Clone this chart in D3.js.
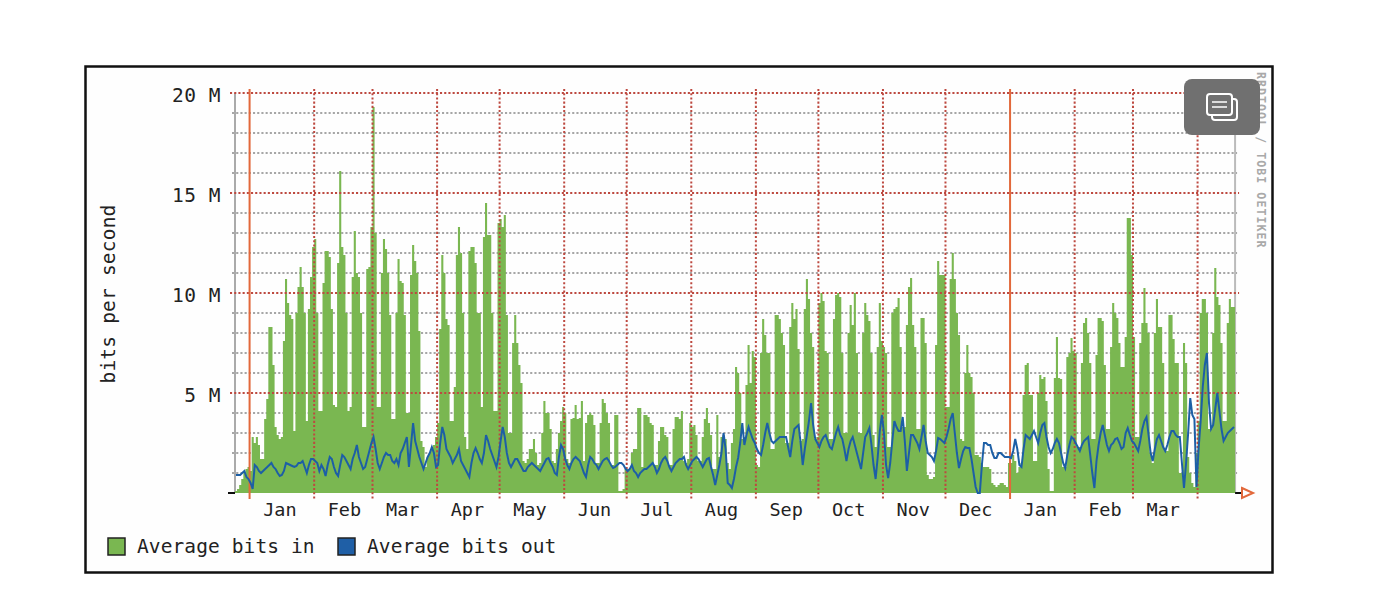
<!DOCTYPE html>
<html lang="en">
<head>
<meta charset="UTF-8">
<title>bits per second</title>
<script src="https://d3js.org/d3.v7.min.js"></script>
<style>
  html, body { margin: 0; padding: 0; background: #fff; }
  svg { display: block; }
  text { font-family: "DejaVu Sans Mono", monospace; fill: #222; }
</style>
</head>
<body>
<div id="content"></div>
<script>
// one value per day, one row per week, in Mbit/s
var bitsIn = [
  .1,.2,.4,.7,1.0,1.2,1.3,
  1.1,2.8,2.5,2.8,2.4,1.7,1.7,
  3.7,4.7,8.3,8.3,6.4,3.3,2.9,
  2.7,2.8,7.6,10.7,9.5,8.9,8.7,
  3.1,9.0,10.3,11.3,10.3,9.0,3.6,
  9.2,10.8,12.3,12.7,9.0,4.1,4.1,
  10.5,12.1,12.1,11.8,9.2,4.4,4.3,
  11.5,16.1,12.3,11.9,9.0,4.1,4.3,
  10.8,13.1,11.0,10.8,9.0,3.3,3.3,
  11.2,11.3,13.3,19.3,13.0,4.3,4.3,
  11.0,12.7,12.2,11.0,8.9,3.7,3.7,
  9.0,11.7,10.6,10.5,8.9,4.0,4.0,
  10.9,12.4,11.6,11.0,8.1,2.6,2.3,
  1.3,1.8,2.0,2.2,2.4,2.8,3.5,
  8.2,11.9,11.0,8.7,8.4,3.6,3.6,
  5.3,11.9,13.3,12.0,9.0,2.8,2.2,
  12.1,12.3,12.3,11.5,9.0,9.0,4.3,
  12.8,14.5,12.9,12.9,9.0,4.1,4.1,
  13.5,13.7,13.3,13.9,8.9,3.0,3.0,
  7.5,8.9,7.5,6.4,5.5,1.6,1.5,
  1.7,2.2,2.2,2.7,2.0,1.4,1.5,
  3.0,4.6,4.0,4.0,3.2,1.6,1.5,
  2.2,3.0,3.6,4.3,4.0,1.7,1.5,
  3.7,3.75,4.4,3.7,3.75,4.6,1.6,
  3.5,3.9,4.0,3.9,3.4,1.5,1.5,
  3.5,4.7,4.5,4.0,3.5,1.4,1.4,
  3.9,3.9,.1,.1,.2,1.2,1.2,
  1.2,2.0,2.2,2.2,4.25,4.25,1.3,
  3.9,3.9,3.8,3.5,3.4,1.4,1.4,
  2.6,3.3,3.3,2.9,2.8,1.4,1.4,
  3.2,3.8,3.8,3.7,4.1,1.6,1.5,
  1.7,3.5,3.3,3.4,2.9,1.6,1.6,
  2.8,3.7,4.25,3.5,2.9,1.2,1.2,
  3.9,1.8,2.8,2.9,2.7,1.5,1.2,
  2.5,3.2,6.3,6.0,5.0,2.7,2.8,
  5.4,7.4,5.5,7.1,6.8,1.4,1.3,
  7.0,8.7,7.9,7.0,7.0,2.2,2.2,
  8.9,8.9,8.7,8.0,7.4,2.5,2.5,
  8.3,9.5,8.7,9.2,7.2,2.6,2.7,
  9.2,10.7,9.7,8.0,7.3,2.7,2.8,
  9.5,10.0,9.6,7.1,7.0,2.7,2.7,
  8.7,9.9,10.0,9.8,7.0,3.0,3.0,
  8.0,9.4,8.4,10.0,7.0,3.0,3.0,
  8.0,9.5,8.9,8.6,7.0,2.9,2.3,
  7.3,9.5,7.6,7.3,7.0,2.3,2.3,
  9.0,9.2,9.3,9.75,7.3,3.3,3.3,
  8.4,10.3,10.75,8.4,7.3,3.2,3.2,
  8.75,8.75,7.5,.9,.7,.7,.8,
  7.4,11.6,10.9,10.9,10.9,4.3,4.3,
  10.7,12.0,10.7,9.0,7.9,2.7,2.6,
  6.0,7.4,6.0,5.8,5.0,1.9,1.9,
  1.8,1.5,1.3,1.3,1.3,1.2,.5,
  .4,.3,.4,.5,.5,.4,.3,
  1.5,1.5,1.9,1.6,1.0,1.3,1.5,
  4.9,6.4,6.5,4.9,4.9,1.6,1.6,
  5.0,5.9,5.7,5.8,4.6,1.2,.1,
  .1,5.75,7.8,5.75,5.7,1.3,1.3,
  6.8,7.0,7.75,7.1,7.0,2.3,2.3,
  6.5,8.5,8.75,8.0,6.5,2.7,2.7,
  6.9,8.75,8.75,8.6,6.4,3.2,3.2,
  7.3,9.5,9.0,8.75,7.5,6.3,6.3,
  7.8,13.75,13.75,11.9,7.8,2.8,2.8,
  7.5,8.5,10.25,8.5,8.0,2.0,1.5,
  8.0,9.7,8.3,8.3,6.5,2.1,2.1,
  8.9,8.9,7.7,6.5,6.5,1.0,1.0,
  7.5,6.5,1.8,1.0,.5,.3,2.0,
  3.6,9.0,9.7,9.7,9.0,3.2,3.2,
  8.0,11.25,9.8,9.4,7.5,3.6,3.6,
  8.5,9.7,9.3,9.3
];

var bitsOut = [
  .9,.9,.9,1.0,1.1,.8,.7,
  .5,.2,1.4,1.3,1.1,1.0,1.1,
  1.2,1.3,1.4,1.5,1.3,1.2,1.0,
  .85,.9,1.1,1.5,1.45,1.4,1.35,
  1.3,1.35,1.5,1.5,1.6,1.3,1.0,
  1.4,1.7,1.7,1.6,1.5,1.1,1.4,
  1.2,.85,1.4,1.8,1.7,1.3,1.0,
  .85,1.4,1.9,1.8,1.6,1.4,1.2,
  1.7,2.0,2.4,1.8,1.5,1.2,1.3,
  1.7,2.1,2.5,2.8,2.2,1.5,1.2,
  1.5,1.8,2.0,1.9,1.9,1.6,1.5,
  1.7,1.4,2.0,2.2,2.5,2.8,1.3,
  2.4,3.5,2.6,2.2,1.8,1.5,1.2,
  1.5,1.8,2.0,2.3,2.0,1.3,1.4,
  2.5,3.3,2.9,2.2,2.0,1.8,1.5,
  1.7,1.9,2.2,1.6,1.4,1.2,1.0,
  .8,1.5,2.0,2.25,2.0,1.7,1.5,
  2.0,2.9,2.6,2.2,1.9,1.6,1.3,
  1.8,2.6,3.3,2.8,2.0,1.5,1.3,
  1.5,1.7,1.7,1.5,1.3,1.1,1.1,
  1.3,1.4,1.5,1.4,1.3,1.2,1.1,
  1.3,1.5,1.7,1.75,1.5,1.3,1.0,
  .9,1.8,2.4,2.2,1.7,1.4,1.2,
  1.5,1.7,1.8,1.7,1.6,1.3,1.0,
  .8,1.4,1.8,1.7,1.5,1.4,1.2,
  1.4,1.6,1.7,1.75,1.6,1.4,1.25,
  1.3,1.4,1.5,1.5,1.4,1.2,1.1,
  1.2,1.4,1.1,1.0,.8,1.0,1.1,
  1.2,1.2,1.3,1.4,1.5,1.3,1.0,
  1.2,1.5,1.7,1.8,1.6,1.3,1.1,
  1.3,1.5,1.6,1.7,1.7,1.8,1.4,
  1.2,1.4,1.6,1.7,1.8,1.7,1.5,
  1.3,1.5,1.7,1.75,1.3,.9,.4,
  .9,1.4,2.0,3.0,2.2,.5,.4,
  .25,.7,1.3,1.75,2.5,3.5,2.4,
  2.9,3.3,3.0,2.7,2.5,2.2,2.0,
  1.9,2.4,3.0,3.5,3.0,2.6,2.5,
  2.6,2.7,2.8,2.8,2.8,2.8,2.3,
  1.8,2.6,3.2,3.3,3.4,2.5,1.4,
  2.2,2.9,3.6,4.5,3.4,2.7,2.5,
  2.3,2.6,2.8,2.9,2.6,2.3,2.2,
  2.6,3.0,3.3,2.9,2.7,2.2,1.6,
  2.2,2.6,2.8,2.4,2.0,1.6,1.2,
  2.0,2.8,3.0,3.25,2.4,1.4,.7,
  1.8,3.1,3.9,3.0,1.4,.75,1.5,
  2.6,3.6,3.3,3.1,3.1,3.8,2.6,
  1.1,2.0,2.9,2.9,2.7,2.5,2.2,
  2.8,3.4,2.6,2.0,1.9,1.8,1.6,
  2.1,2.75,2.7,2.6,2.5,2.8,3.2,
  3.7,4.0,3.0,2.0,1.25,1.7,2.1,
  2.3,2.25,2.25,1.7,1.0,.3,0,
  0,1.4,2.5,2.5,2.4,2.4,2.0,
  1.75,1.75,2.0,2.0,1.9,1.8,1.8,
  1.8,1.75,2.1,2.7,2.2,1.4,1.3,
  2.2,2.9,2.8,2.7,2.9,3.1,2.8,
  2.5,3.0,3.4,3.5,2.8,2.3,2.0,
  2.2,2.5,2.7,2.5,2.0,1.5,1.25,
  1.9,2.4,2.8,2.7,2.5,2.3,2.1,
  2.4,2.6,2.7,2.8,1.9,1.0,.25,
  1.6,2.4,3.0,3.4,2.9,2.4,2.1,
  2.4,2.5,2.7,2.75,2.5,2.2,2.3,
  3.0,3.25,2.9,2.6,2.5,2.3,2.1,
  2.6,3.2,3.6,3.8,2.9,2.0,1.6,
  2.2,2.7,2.9,2.6,2.3,2.1,2.4,
  2.8,3.1,3.1,2.9,2.8,2.8,1.5,
  .25,1.5,3.0,4.75,3.9,3.7,.3,
  2.2,3.6,5.3,6.4,7.0,4.5,3.2,
  3.4,4.2,5.0,4.1,3.2,2.6,2.8,
  3.0,3.1,3.2,3.3
];

var monthLabels = ['Jan','Feb','Mar','Apr','May','Jun','Jul','Aug','Sep','Oct','Nov','Dec','Jan','Feb','Mar'];
var majorTicks = [5, 10, 15, 20];
var minorTicks = [1,2,3,4,6,7,8,9,11,12,13,14,16,17,18,19];
var legendNames = ['Average bits in', 'Average bits out'];

var startDay = new Date(2016, 11, 25);
var width = 1388, height = 614;
var plotLeft = 235, plotTop = 93, plotBottom = 493;
var green = '#7ab751', blue = '#1f5fa6';

function day(i) { return d3.timeDay.offset(startDay, i); }

var x = d3.scaleTime().domain([startDay, day(bitsIn.length)]).range([plotLeft, plotLeft + 2.0835 * bitsIn.length]);
var y = d3.scaleLinear().domain([0, 20]).range([plotBottom, plotTop]);
var plotRight = x.range()[1];

var months = d3.timeMonth.range(day(0), day(bitsIn.length));
var midMonths = months.slice(0, monthLabels.length).map(function(m) { return d3.timeDay.offset(m, 15); });

var svg = d3.select('#content').append('svg').attr('width', width).attr('height', height);
var defs = svg.append('defs');
defs.append('filter').attr('id', 'soft').attr('filterUnits', 'userSpaceOnUse')
  .attr('x', 0).attr('y', 0).attr('width', width).attr('height', height)
  .append('feGaussianBlur').attr('stdDeviation', 0.5);

svg.append('rect').attr('x', 85.5).attr('y', 66.5).attr('width', 1187).attr('height', 506)
  .attr('fill', '#fefefe').attr('stroke', '#111').attr('stroke-width', 2.5);

var chart = svg.append('g').attr('filter', 'url(#soft)');

// minor grid goes under the area, the rest over it
chart.append('g').selectAll('line').data(minorTicks).join('line')
  .attr('x1', plotLeft - 3).attr('x2', plotRight + 2)
  .attr('y1', y).attr('y2', y)
  .attr('stroke', '#a6a6a6').attr('stroke-width', 1.8).attr('stroke-dasharray', '2.1 2.1');

chart.append('line').attr('x1', plotLeft).attr('x2', plotLeft).attr('y1', plotTop).attr('y2', plotBottom).attr('stroke', '#aaa').attr('stroke-width', 2);
chart.append('line').attr('x1', plotRight).attr('x2', plotRight).attr('y1', plotTop).attr('y2', plotBottom).attr('stroke', '#bbb').attr('stroke-width', 2);

var inArea = d3.area()
  .x(function(d, i) { return x(day(i)); })
  .y0(y(0))
  .y1(function(d) { return y(d); })
  .curve(d3.curveStepAfter);

chart.append('path')
  .datum(bitsIn.concat(bitsIn[bitsIn.length - 1]))
  .attr('d', inArea)
  .attr('fill', green);

chart.append('g').selectAll('line').data(majorTicks).join('line')
  .attr('x1', plotLeft - 5).attr('x2', plotRight + 4)
  .attr('y1', y).attr('y2', y)
  .attr('stroke', '#bd4a40').attr('stroke-width', 2).attr('stroke-dasharray', '2.1 2.1');

chart.append('g').selectAll('line').data(months).join('line')
  .attr('x1', x).attr('x2', x)
  .attr('y1', plotTop - 4).attr('y2', plotBottom + 6)
  .attr('stroke', function(d) { return d.getMonth() == 0 ? '#e2683a' : '#bd4a40'; })
  .attr('stroke-width', 2)
  .attr('stroke-dasharray', function(d) { return d.getMonth() == 0 ? null : '2.1 2.1'; });

var outLine = d3.line()
  .x(function(d, i) { return x(day(i)) + 1; })
  .y(function(d) { return y(d); });

chart.append('path')
  .datum(bitsOut)
  .attr('d', outLine)
  .attr('fill', 'none')
  .attr('stroke', blue)
  .attr('stroke-width', 2);

// base line stub and the arrow at the end of the time axis
chart.append('line').attr('x1', plotLeft - 7).attr('x2', plotLeft).attr('y1', y(0)).attr('y2', y(0)).attr('stroke', '#111').attr('stroke-width', 2);
chart.append('line').attr('x1', plotRight).attr('x2', plotRight + 6).attr('y1', y(0)).attr('y2', y(0)).attr('stroke', '#111').attr('stroke-width', 2);
chart.append('path').attr('d', 'M1242,488L1253,493L1242,498Z').attr('fill', '#fff').attr('stroke', '#e2683a').attr('stroke-width', 2);

var yAxis = d3.axisLeft(y).tickValues(majorTicks).tickSize(0).tickPadding(0)
  .tickFormat(function(d) { return d + ' M'; });
var yG = svg.append('g').attr('transform', 'translate(221,0)').call(yAxis);
yG.select('.domain').remove();
yG.selectAll('text').attr('font-size', 19.5).attr('dy', '0.42em').style('letter-spacing', '0.5px');

var xAxis = d3.axisBottom(x).tickValues(midMonths).tickSize(0).tickPadding(0)
  .tickFormat(function(d, i) { return monthLabels[i]; });
var xG = svg.append('g').attr('transform', 'translate(-1.5,501)').call(xAxis);
xG.select('.domain').remove();
xG.selectAll('text').attr('font-size', 18.5).attr('dy', '0.8em');

svg.append('text')
  .attr('transform', 'translate(115,294) rotate(-90)')
  .attr('text-anchor', 'middle')
  .attr('font-size', 19.5)
  .style('letter-spacing', '0.2px')
  .text('bits per second');

svg.append('text')
  .attr('transform', 'translate(1257,72) rotate(90)')
  .attr('font-size', 11.5)
  .attr('font-weight', 'bold')
  .style('fill', '#a9a9a9')
  .style('letter-spacing', '1.1px')
  .text('RRDTOOL / TOBI OETIKER');

var legend = svg.append('g').selectAll('g').data(legendNames).join('g')
  .attr('transform', function(d, i) { return 'translate(' + [108, 338][i] + ',538)'; });
legend.append('rect').attr('width', 17).attr('height', 17)
  .attr('fill', function(d, i) { return [green, blue][i]; })
  .attr('stroke', '#222').attr('stroke-width', 1.5);
legend.append('text').attr('x', 29).attr('y', 15).attr('font-size', 19.5).style('letter-spacing', '0.1px').text(function(d) { return d; });

// comment button sitting over the corner of the chart
var btn = svg.append('g').attr('transform', 'translate(1184,79)');
btn.append('rect').attr('width', 76).attr('height', 56).attr('rx', 8).attr('fill', '#707070');
btn.append('rect').attr('x', 28).attr('y', 20).attr('width', 25).attr('height', 21).attr('rx', 3).attr('fill', '#707070').attr('stroke', '#fff').attr('stroke-width', 2);
btn.append('rect').attr('x', 23).attr('y', 15).attr('width', 25).attr('height', 21).attr('rx', 3).attr('fill', '#707070').attr('stroke', '#fff').attr('stroke-width', 2);
btn.append('line').attr('x1', 28).attr('x2', 43).attr('y1', 23).attr('y2', 23).attr('stroke', '#fff').attr('stroke-width', 1.5);
btn.append('line').attr('x1', 28).attr('x2', 43).attr('y1', 28).attr('y2', 28).attr('stroke', '#fff').attr('stroke-width', 1.5);
</script>
</body>
</html>
